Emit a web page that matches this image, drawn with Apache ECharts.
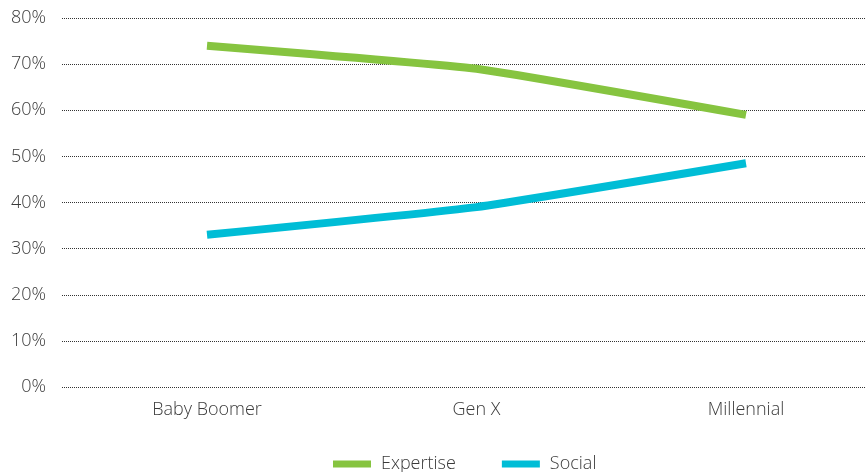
<!DOCTYPE html>
<html>
<head>
<meta charset="utf-8">
<script src="https://cdn.jsdelivr.net/npm/echarts@6/dist/echarts.min.js"></script>
<style>
  html, body { margin: 0; padding: 0; background: #fff; }
  #chart { width: 865px; height: 472px; }
</style>
</head>
<body>
<div id="chart"></div>
<script>
// Generations on the x axis
const categories = ['Baby Boomer', 'Gen X', 'Millennial'];
// Share of respondents (%)
const expertise = [74, 69, 59];
const social = [33, 39, 48.5];
// Y axis ticks
const yTicks = [0, 10, 20, 30, 40, 50, 60, 70, 80];

const FONT = '"Open Sans", "Noto Sans", sans-serif';
const TEXT = '#3a3a3a';
const FS = 18;
const FW = 300;

const chart = echarts.init(document.getElementById('chart'));
chart.setOption({
  animation: false,
  textStyle: { fontFamily: FONT },
  grid: [
    // full-width grid: y labels and dotted split lines
    { left: 62, right: 0, top: 18, bottom: 85 },
    // data grid: category points
    { left: 207, right: 119, top: 18, bottom: 85 }
  ],
  legend: {
    left: 328,
    top: 450,
    itemWidth: 38,
    itemHeight: 7,
    itemGap: 46,
    icon: 'rect',
    textStyle: { fontFamily: FONT, fontSize: FS, fontWeight: FW, color: TEXT, padding: [0, 0, 0, 5] },
    data: ['Expertise', 'Social']
  },
  xAxis: [
    { gridIndex: 0, type: 'value', min: 0, max: 1, show: false },
    {
      gridIndex: 1,
      type: 'category',
      boundaryGap: false,
      data: categories,
      axisLine: { show: false },
      axisTick: { show: false },
      axisLabel: { fontFamily: FONT, fontSize: FS, fontWeight: FW, color: TEXT, margin: 14 }
    }
  ],
  yAxis: [
    {
      gridIndex: 0,
      type: 'value',
      min: yTicks[0],
      max: yTicks[yTicks.length - 1],
      interval: 10,
      axisLine: { show: false },
      axisTick: { show: false },
      axisLabel: { fontFamily: FONT, fontSize: FS, fontWeight: FW, color: TEXT, margin: 16, formatter: '{value}%' },
      splitLine: { lineStyle: { type: [1, 1], color: '#333', width: 1 } }
    },
    {
      gridIndex: 1,
      type: 'value',
      min: yTicks[0],
      max: yTicks[yTicks.length - 1],
      show: false
    }
  ],
  series: [
    {
      name: 'Expertise',
      type: 'line',
      xAxisIndex: 1,
      yAxisIndex: 1,
      data: expertise,
      smooth: 0.12,
      symbol: 'none',
      color: '#86C440',
      lineStyle: { width: 8, color: '#86C440', cap: 'butt', join: 'round' }
    },
    {
      name: 'Social',
      type: 'line',
      xAxisIndex: 1,
      yAxisIndex: 1,
      data: social,
      smooth: 0.12,
      symbol: 'none',
      color: '#00BDD6',
      lineStyle: { width: 8, color: '#00BDD6', cap: 'butt', join: 'round' }
    }
  ]
});
</script>
</body>
</html>
